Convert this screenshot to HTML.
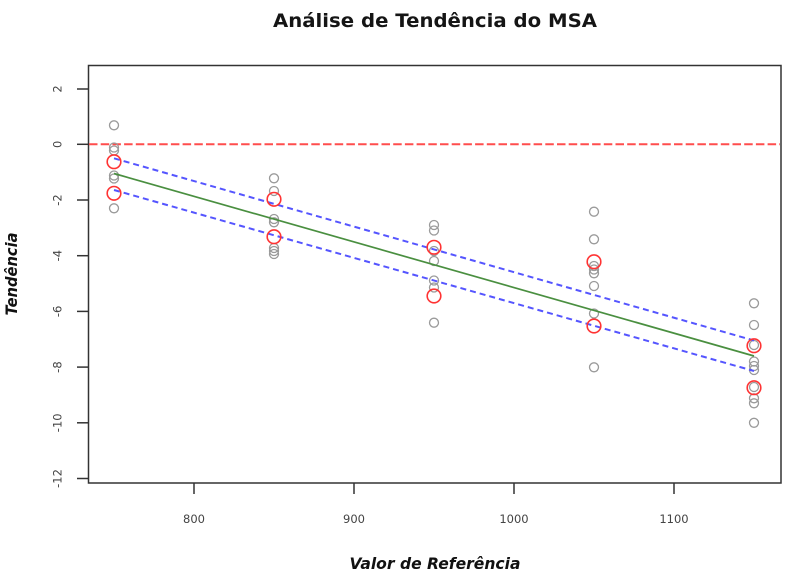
<!DOCTYPE html>
<html><head><meta charset="utf-8"><style>
html,body{margin:0;padding:0;background:#fff;}
svg{display:block;}
text{font-family:"DejaVu Sans","Liberation Sans",sans-serif;}
</style></head><body>
<svg width="792" height="583" viewBox="0 0 792 583" xmlns="http://www.w3.org/2000/svg">
<rect width="792" height="583" fill="#fff"/>
<text x="435" y="27" text-anchor="middle" font-size="19" font-weight="bold" fill="#151515" textLength="324" lengthAdjust="spacingAndGlyphs">Análise de Tendência do MSA</text>

<!-- axes frame -->
<rect x="88.5" y="65.5" width="692.5" height="417.5" fill="none" stroke="#333" stroke-width="1.5"/>

<!-- ticks -->
<g stroke="#333" stroke-width="1.5">
<line x1="77" y1="89" x2="88" y2="89"/>
<line x1="77" y1="144.3" x2="88" y2="144.3"/>
<line x1="77" y1="200" x2="88" y2="200"/>
<line x1="77" y1="255.7" x2="88" y2="255.7"/>
<line x1="77" y1="311.4" x2="88" y2="311.4"/>
<line x1="77" y1="367.1" x2="88" y2="367.1"/>
<line x1="77" y1="422.8" x2="88" y2="422.8"/>
<line x1="77" y1="478.5" x2="88" y2="478.5"/>
<line x1="194" y1="483" x2="194" y2="494"/>
<line x1="354" y1="483" x2="354" y2="494"/>
<line x1="514" y1="483" x2="514" y2="494"/>
<line x1="674" y1="483" x2="674" y2="494"/>
</g>
<g font-size="11.5" fill="#444" text-anchor="middle">
<text transform="translate(61.5,89) rotate(-90)">2</text>
<text transform="translate(61.5,144.3) rotate(-90)">0</text>
<text transform="translate(61.5,200) rotate(-90)">-2</text>
<text transform="translate(61.5,255.7) rotate(-90)">-4</text>
<text transform="translate(61.5,311.4) rotate(-90)">-6</text>
<text transform="translate(61.5,367.1) rotate(-90)">-8</text>
<text transform="translate(61.5,422.8) rotate(-90)">-10</text>
<text transform="translate(61.5,478.5) rotate(-90)">-12</text>
<text x="194" y="523">800</text>
<text x="354" y="523">900</text>
<text x="514" y="523">1000</text>
<text x="674" y="523">1100</text>
</g>

<text x="435" y="569" text-anchor="middle" font-size="16" font-weight="bold" font-style="italic" fill="#111" textLength="171" lengthAdjust="spacingAndGlyphs">Valor de Referência</text>
<text transform="translate(17,274) rotate(-90)" text-anchor="middle" font-size="16" font-weight="bold" font-style="italic" fill="#111" textLength="83" lengthAdjust="spacingAndGlyphs">Tendência</text>

<!-- zero line -->
<line x1="89" y1="144.3" x2="780" y2="144.3" stroke="#ff4d4d" stroke-width="2" stroke-dasharray="8.5 3.2"/>

<!-- gray points -->
<g fill="none" stroke="#9a9a9a" stroke-width="1.3">
<circle cx="114" cy="125.3" r="4.5"/>
<circle cx="114" cy="147.5" r="4.5"/>
<circle cx="114" cy="150.5" r="4.5"/>
<circle cx="114" cy="175.5" r="4.5"/>
<circle cx="114" cy="178.5" r="4.5"/>
<circle cx="114" cy="208.3" r="4.5"/>

<circle cx="274" cy="178.3" r="4.5"/>
<circle cx="274" cy="191" r="4.5"/>
<circle cx="274" cy="219" r="4.5"/>
<circle cx="274" cy="222.3" r="4.5"/>
<circle cx="274" cy="248" r="4.5"/>
<circle cx="274" cy="251" r="4.5"/>
<circle cx="274" cy="254" r="4.5"/>

<circle cx="434" cy="225" r="4.5"/>
<circle cx="434" cy="230.5" r="4.5"/>
<circle cx="434" cy="251" r="4.5"/>
<circle cx="434" cy="261" r="4.5"/>
<circle cx="434" cy="280.5" r="4.5"/>
<circle cx="434" cy="287.5" r="4.5"/>
<circle cx="434" cy="322.7" r="4.5"/>

<circle cx="594" cy="211.7" r="4.5"/>
<circle cx="594" cy="239.3" r="4.5"/>
<circle cx="594" cy="266" r="4.5"/>
<circle cx="594" cy="269.5" r="4.5"/>
<circle cx="594" cy="273.3" r="4.5"/>
<circle cx="594" cy="286" r="4.5"/>
<circle cx="594" cy="313.5" r="4.5"/>
<circle cx="594" cy="367.3" r="4.5"/>

<circle cx="754" cy="303.3" r="4.5"/>
<circle cx="754" cy="325" r="4.5"/>
<circle cx="754" cy="345" r="4.5"/>
<circle cx="754" cy="361.5" r="4.5"/>
<circle cx="754" cy="366" r="4.5"/>
<circle cx="754" cy="370" r="4.5"/>
<circle cx="754" cy="387" r="4.5"/>
<circle cx="754" cy="398.3" r="4.5"/>
<circle cx="754" cy="403.3" r="4.5"/>
<circle cx="754" cy="422.8" r="4.5"/>
</g>

<!-- lines -->
<line x1="114" y1="158.3" x2="754" y2="340.5" stroke="#5555ff" stroke-width="2" stroke-dasharray="6 4"/>
<line x1="114" y1="190" x2="754" y2="371" stroke="#5555ff" stroke-width="2" stroke-dasharray="6 4"/>
<line x1="114" y1="173.5" x2="754" y2="356" stroke="#4a8f40" stroke-width="1.7"/>

<!-- red means -->
<g fill="none" stroke="#ff3333" stroke-width="1.6">
<circle cx="114" cy="161.7" r="6.8"/>
<circle cx="114" cy="193.3" r="6.8"/>
<circle cx="274" cy="199.3" r="6.8"/>
<circle cx="274" cy="236.7" r="6.8"/>
<circle cx="434" cy="247.3" r="6.8"/>
<circle cx="434" cy="296" r="6.8"/>
<circle cx="594" cy="261.7" r="6.8"/>
<circle cx="594" cy="326" r="6.8"/>
<circle cx="754" cy="345.7" r="6.8"/>
<circle cx="754" cy="387.7" r="6.8"/>
</g>
</svg>
</body></html>
